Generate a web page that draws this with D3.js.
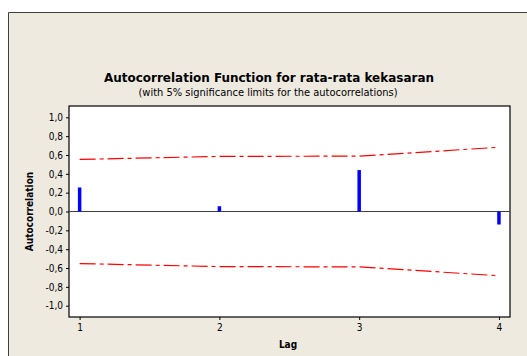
<!DOCTYPE html>
<html>
<head>
<meta charset="utf-8">
<script src="https://cdn.jsdelivr.net/npm/d3@7"></script>
<style>
  body { margin: 0; background: #ffffff; }
  svg { display: block; }
  .tick text { font-family: "DejaVu Sans Condensed", "DejaVu Sans", sans-serif; font-size: 10px; fill: #000; }
</style>
</head>
<body>
<div id="chart"></div>
<script>
// ======================================
// Data
// ======================================
var lags = [1, 2, 3, 4];
var acfValues = [0.255, 0.056, 0.44, -0.138];
var upperLimits = [0.553, 0.585, 0.588, 0.682];
var lowerLimits = [-0.553, -0.585, -0.588, -0.682];
var yTickValues = [-1.0, -0.8, -0.6, -0.4, -0.2, 0.0, 0.2, 0.4, 0.6, 0.8, 1.0];

var svgWidth = 527;
var svgHeight = 356;

var plot = { left: 69, top: 106, right: 510, bottom: 317 };

var svg = d3.select("#chart")
  .append("svg")
  .attr("width", svgWidth)
  .attr("height", svgHeight);

// outer beige panel (only top and left edges are drawn)
svg.append("rect")
  .attr("x", 8)
  .attr("y", 12)
  .attr("width", svgWidth - 8)
  .attr("height", svgHeight - 12)
  .attr("fill", "#eeeae0");

svg.append("path")
  .attr("d", `M8.5,${svgHeight} V12.5 H${svgWidth}`)
  .attr("fill", "none")
  .attr("stroke", "#404040")
  .attr("stroke-width", 1);

// plot area
svg.append("rect")
  .attr("x", plot.left)
  .attr("y", plot.top)
  .attr("width", plot.right - plot.left)
  .attr("height", plot.bottom - plot.top)
  .attr("fill", "#ffffff")
  .attr("stroke", "#000")
  .attr("stroke-width", 1.2);

// scales
var xScale = d3.scaleLinear()
  .domain([0.924, 4.079])
  .range([plot.left, plot.right]);

var yScale = d3.scaleLinear()
  .domain([-1.12, 1.12])
  .range([plot.bottom, plot.top]);

// axes
var fmt = function(d) { return d3.format(".1f")(d).replace(".", ",").replace("−", "-"); };

var leftAxis = d3.axisLeft(yScale)
  .tickValues(yTickValues)
  .tickSize(3)
  .tickPadding(3)
  .tickFormat(fmt);

var bottomAxis = d3.axisBottom(xScale)
  .tickValues(lags)
  .tickSize(3)
  .tickPadding(4)
  .tickFormat(d3.format("d"));

var yAxis = svg.append("g")
  .attr("transform", `translate(${plot.left}, 0)`)
  .call(leftAxis);
yAxis.select(".domain").remove();

var xAxis = svg.append("g")
  .attr("transform", `translate(0, ${plot.bottom})`)
  .call(bottomAxis);
xAxis.select(".domain").remove();

// zero line
svg.append("line")
  .attr("x1", plot.left)
  .attr("x2", plot.right)
  .attr("y1", yScale(0))
  .attr("y2", yScale(0))
  .attr("stroke", "#404040")
  .attr("stroke-width", 1.2);

// significance limits
var limitLine = d3.line()
  .x(d => xScale(d[0]))
  .y(d => yScale(d[1]));

[upperLimits, lowerLimits].forEach(function(limits) {
  svg.append("path")
    .datum(lags.map((l, i) => [l, limits[i]]))
    .attr("d", limitLine)
    .attr("fill", "none")
    .attr("stroke", "#ff0000")
    .attr("stroke-width", 1.2)
    .attr("stroke-dasharray", "16,4,4,4");
});

// acf bars
svg.selectAll(".acf-bar")
  .data(lags)
  .enter()
  .append("line")
  .attr("class", "acf-bar")
  .attr("x1", d => xScale(d))
  .attr("x2", d => xScale(d))
  .attr("y1", yScale(0))
  .attr("y2", (d, i) => yScale(acfValues[i]))
  .attr("stroke", "#0000ff")
  .attr("stroke-width", 3.5);

// titles
svg.append("text")
  .attr("x", 269)
  .attr("y", 82)
  .attr("text-anchor", "middle")
  .attr("font-family", "DejaVu Sans Condensed, DejaVu Sans, sans-serif")
  .attr("font-weight", "bold")
  .attr("font-size", "13px")
  .attr("textLength", 330)
  .attr("lengthAdjust", "spacingAndGlyphs")
  .text("Autocorrelation Function for rata-rata kekasaran");

svg.append("text")
  .attr("x", 268)
  .attr("y", 96)
  .attr("text-anchor", "middle")
  .attr("font-family", "DejaVu Sans Condensed, DejaVu Sans, sans-serif")
  .attr("font-size", "10px")
  .attr("textLength", 259)
  .attr("lengthAdjust", "spacingAndGlyphs")
  .text("(with 5% significance limits for the autocorrelations)");

// axis labels
svg.append("text")
  .attr("transform", `translate(33, ${(plot.top + plot.bottom) / 2}) rotate(-90)`)
  .attr("text-anchor", "middle")
  .attr("font-family", "DejaVu Sans Condensed, DejaVu Sans, sans-serif")
  .attr("font-weight", "bold")
  .attr("font-size", "10px")
  .text("Autocorrelation");

svg.append("text")
  .attr("x", 288)
  .attr("y", 348)
  .attr("text-anchor", "middle")
  .attr("font-family", "DejaVu Sans Condensed, DejaVu Sans, sans-serif")
  .attr("font-weight", "bold")
  .attr("font-size", "10px")
  .text("Lag");
</script>
</body>
</html>
